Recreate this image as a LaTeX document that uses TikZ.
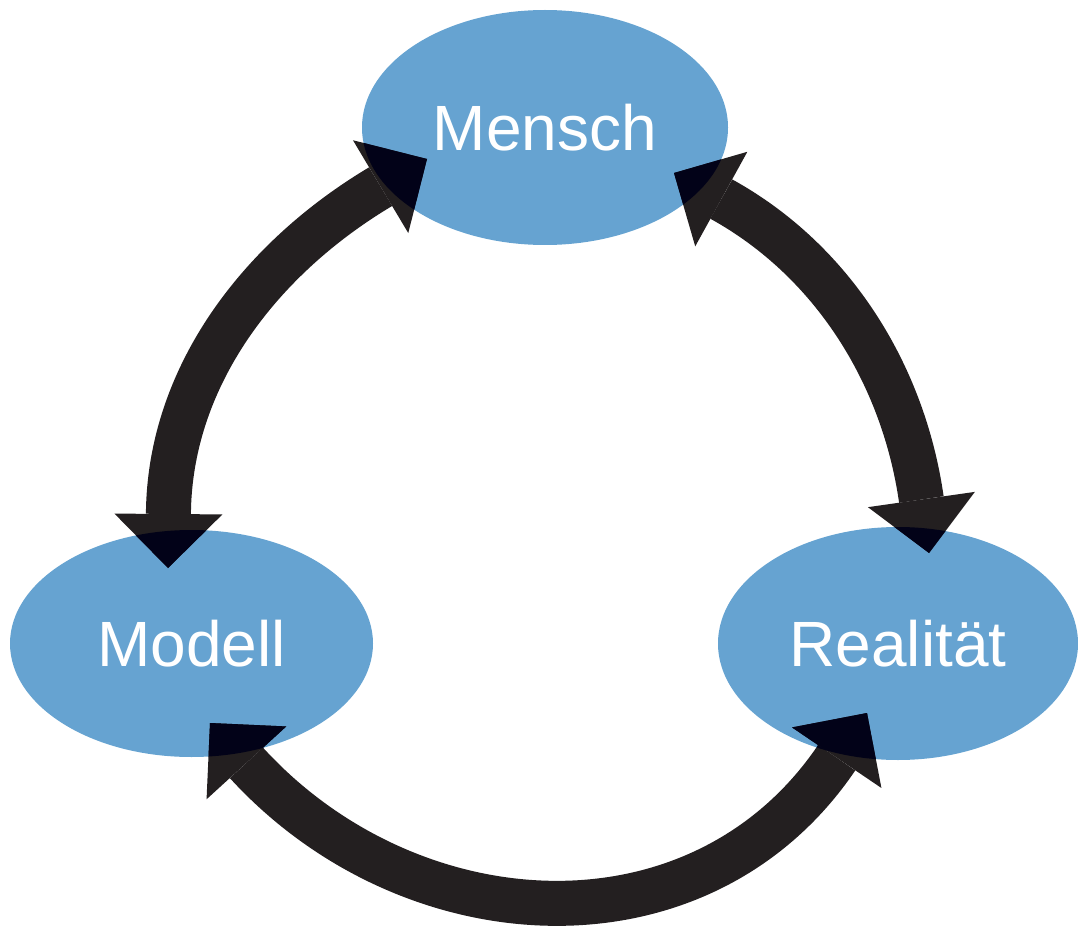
\documentclass[tikz,border=0pt]{standalone}
\usepackage{fontspec}
\setmainfont{Liberation Sans}
\usetikzlibrary{shapes.geometric,arrows.meta}
\definecolor{ellblue}{RGB}{102,163,209}
\definecolor{arrdark}{RGB}{35,31,32}
\definecolor{overlapdark}{RGB}{2,2,24}
\newcommand{\drawmylinks}[1]{%
  \draw[link,#1] (modtop) .. controls (169.5,375.8) and (260.9,258) .. (menleft);
  \draw[link,#1] (menright) .. controls (832.9,260.6) and (903.5,374.5) .. (realtop);
  \draw[link,#1] (modbot) .. controls (410.8,942.8) and (700.2,959.2) .. (realbot);}
\begin{document}
\begin{tikzpicture}[x=0.75pt,y=-0.75pt,
  blob/.style={ellipse, fill=ellblue, draw=none, inner sep=0pt, text=white,
    font=\fontsize{48}{56}\selectfont},
  link/.style={draw=arrdark, line width=33.75pt,
    {Triangle[width=81pt,length=40.5pt,line width=0pt]}-{Triangle[width=81pt,length=40.5pt,line width=0pt]}}]
\useasboundingbox (0,0) rectangle (1078,927);
% ellipses
\node[blob, minimum width=274.5pt, minimum height=176.25pt] (mensch) at (545,127.5) {Mensch};
\node[blob, minimum width=272.25pt, minimum height=170.25pt] (modell) at (191.5,643.5) {Modell};
\node[blob, minimum width=270pt, minimum height=174.75pt] (realitaet) at (898,643.5) {Realität};
% arrow tip points
\coordinate (modtop) at (168,568);
\coordinate (menleft) at (427,159);
\coordinate (menright) at (674,173);
\coordinate (realtop) at (929,553);
\coordinate (modbot) at (210,723);
\coordinate (realbot) at (867,713);
% connectors
\drawmylinks{}
% darker parts where the connectors cover the ellipses
\begin{scope}
\clip (mensch.center) ellipse [x radius=137.25pt, y radius=88.125pt]
      (modell.center) ellipse [x radius=136.125pt, y radius=85.125pt]
      (realitaet.center) ellipse [x radius=135pt, y radius=87.375pt];
\drawmylinks{draw=overlapdark}
\end{scope}
\end{tikzpicture}
\end{document}
